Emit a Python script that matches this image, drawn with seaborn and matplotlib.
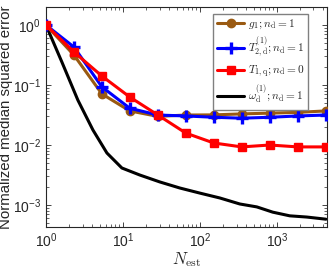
import numpy as np
import pandas as pd
import matplotlib
matplotlib.use("Agg")
import matplotlib.pyplot as plt
import seaborn as sns

# marker positions (shared by the three marked series)
n_est = [1, 2.31, 5.34, 12.3, 28.5, 65.8, 152, 351, 811, 1874, 4330]

g1_err = [1.0, 0.316, 0.071, 0.037, 0.030, 0.0316, 0.0318, 0.033, 0.034, 0.035, 0.037]
t2d_err = [1.0, 0.43, 0.093, 0.041, 0.0316, 0.0305, 0.029, 0.028, 0.029, 0.0305, 0.0316]
t1q_err = [1.0, 0.355, 0.141, 0.063, 0.0316, 0.0158, 0.0108, 0.0093, 0.0100, 0.0093, 0.0093]

# omega curve (no markers)
n_omega = [1, 1.61, 2.6, 4.08, 6.2, 9.7, 16.6, 30.3, 55, 100, 182, 331, 550, 887, 1476, 2456, 4360]
omega_err = [1.0, 0.242, 0.056, 0.0178, 0.00736, 0.00414, 0.00316, 0.00242, 0.00192,
             0.00158, 0.00131, 0.00104, 0.00093, 0.00076, 0.00066, 0.00063, 0.00058]

labels = [r"$g_1; n_{\rm d}=1$",
          r"$T^{(1)}_{2,{\rm d}}; n_{\rm d}=1$",
          r"$T_{1,{\rm q}}; n_{\rm d}=0$",
          r"$\omega^{(1)}_{\rm d}; n_{\rm d}=1$"]

sns.set_style("ticks")
plt.rcParams['font.family'] = ['Liberation Sans', 'DejaVu Sans']
plt.rcParams['mathtext.fontset'] = 'cm'
plt.rcParams['xtick.direction'] = 'in'
plt.rcParams['ytick.direction'] = 'in'

fig = plt.figure(figsize=(3.33, 2.68), dpi=100)
ax = fig.add_axes([0.138, 0.153, 0.844, 0.821])

brown = '#9a5a12'
sns.lineplot(x=n_est, y=g1_err, ax=ax, color=brown, lw=2.2, marker='o', ms=6,
             mec=brown, mfc=brown, mew=1, label=labels[0], zorder=3)
sns.lineplot(x=n_est, y=t2d_err, ax=ax, color='#0000ff', lw=2.2, marker='+', ms=9,
             mew=2.4, mec='#0000ff', label=labels[1], zorder=4)
sns.lineplot(x=n_est, y=t1q_err, ax=ax, color='#ff0000', lw=2.2, marker='s', ms=5.5,
             mec='#ff0000', mfc='#ff0000', mew=1, label=labels[2], zorder=5)
sns.lineplot(x=n_omega, y=omega_err, ax=ax, color='black', lw=2.2, label=labels[3], zorder=2)

ax.set_xscale('log')
ax.set_yscale('log')
ax.set_xlim(1, 4500)
ax.set_ylim(4.3e-4, 2.0)
ax.tick_params(which='both', top=True, right=True, labelsize=10)
ax.tick_params(which='major', length=3.5, width=0.6)
ax.tick_params(which='minor', length=2, width=0.5)
for s in ax.spines.values():
    s.set_linewidth(0.8)

ax.set_xlabel(r"$N_{\rm est}$", fontsize=12, labelpad=0)
ax.set_ylabel("Normalized median squared error", fontsize=10.8, labelpad=0)

leg = ax.legend(loc='upper left', bbox_to_anchor=(213 / 333, 1 - 14 / 268),
                bbox_transform=fig.transFigure, fontsize=8.2,
                frameon=True, fancybox=False, edgecolor='#808080', framealpha=1,
                handlelength=2.4, handletextpad=0.3, borderpad=0.35, labelspacing=0.38,
                borderaxespad=0)
leg.get_frame().set_linewidth(1.0)

fig.savefig('out.png', dpi=100)
